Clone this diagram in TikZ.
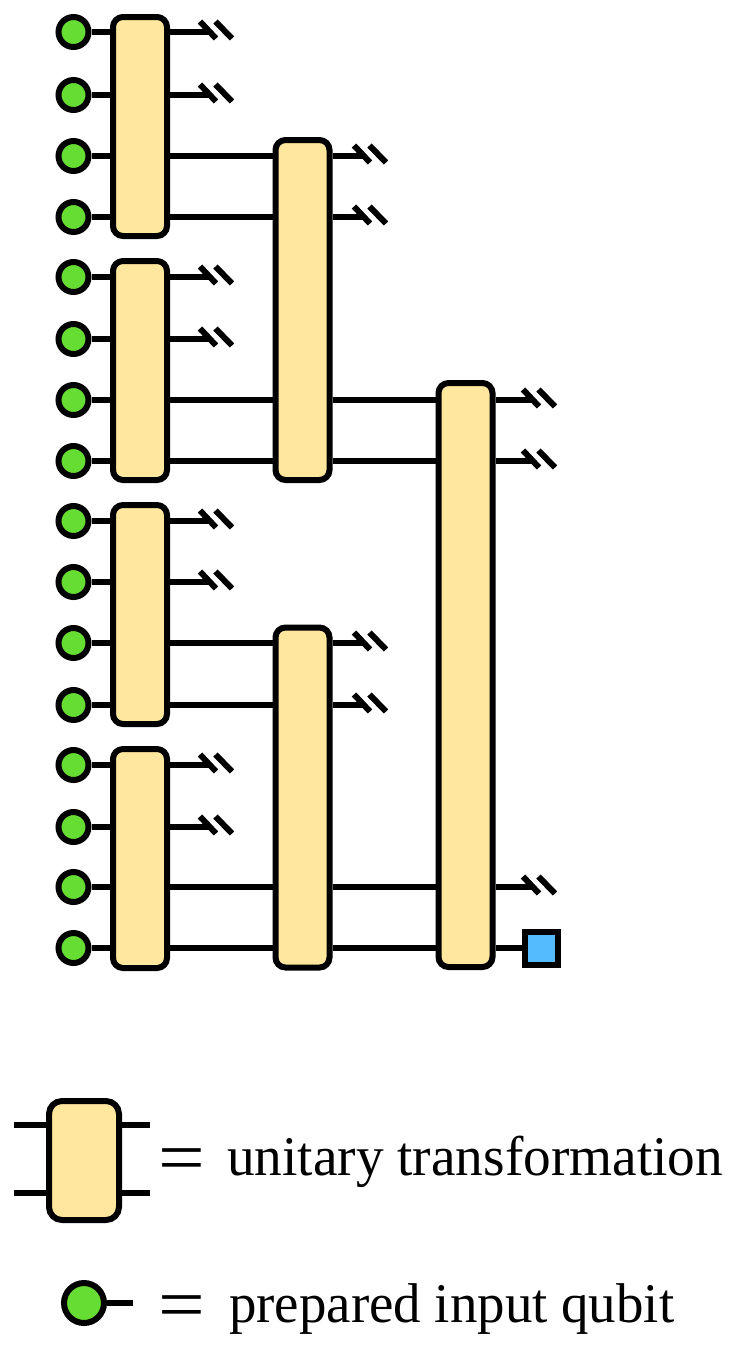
\documentclass[tikz,border=0pt]{standalone}
\usepackage{fontspec}
\setmainfont{Liberation Serif}
\definecolor{gateY}{HTML}{FFE89E}
\definecolor{qubitG}{HTML}{66DD33}
\definecolor{measB}{HTML}{55BBFF}
\tikzset{
  gate/.style={draw=black,fill=gateY,line width=6pt,rectangle,rounded corners=10pt,inner sep=0pt,minimum width=54pt},
  qubit/.style={draw=black,fill=qubitG,line width=6pt,circle,inner sep=0pt,minimum size=30pt},
  meas/.style={draw=black,fill=measB,line width=6pt,rectangle,inner sep=0pt,minimum size=33pt},
  wire/.style={draw=black,line width=5.5pt},
  cut/.style={draw=black,line width=6pt,line cap=butt},
  lab/.style={inner sep=0pt,anchor=base west,font=\fontsize{56}{56}\selectfont},
  eqs/.style={inner sep=0pt,xscale=1.12,font=\fontsize{74}{74}\selectfont}
}
\newcommand{\slashes}[1]{%
  \draw[cut] ([shift={(-10,-10.5)}]#1) -- ([shift={(6,6.5)}]#1);
  \draw[cut] ([shift={(5.5,-10.5)}]#1) -- ([shift={(22,6.5)}]#1);
}
\begin{document}
\begin{tikzpicture}[x=1pt,y=-1pt]
\useasboundingbox (0,0) rectangle (733,1350);
\fill[white] (0,0) rectangle (733,1350);
% qubits
\foreach \i/\y in {1/32,2/95,3/156,4/217,5/277,6/339,7/400,8/461,9/521,10/582,11/643,12/705,13/765,14/827,15/887,16/948}{
  \node[qubit] (q\i) at (73.5,\y) {};
  \coordinate (w\i) at (0,\y);
}
% gates
\node[gate,minimum height=219pt] (a1) at (140,126.5) {};
\node[gate,minimum height=219pt] (a2) at (140,370.5) {};
\node[gate,minimum height=219pt] (a3) at (140,614.5) {};
\node[gate,minimum height=219pt] (a4) at (140,858.5) {};
\node[gate,minimum height=340pt] (b1) at (302.5,310) {};
\node[gate,minimum height=340pt] (b2) at (302.5,797.5) {};
\node[gate,minimum height=584pt] (c1) at (465.5,675) {};
\node[meas] (m) at (541.5,948) {};
% input wires
\foreach \i/\g in {1/a1,2/a1,3/a1,4/a1,5/a2,6/a2,7/a2,8/a2,9/a3,10/a3,11/a3,12/a3,13/a4,14/a4,15/a4,16/a4}{
  \draw[wire] (q\i.east) -- (q\i -| \g.west);
}
% wires between gates
\foreach \i/\g/\h in {3/a1/b1,4/a1/b1,7/a2/b1,8/a2/b1,11/a3/b2,12/a3/b2,15/a4/b2,16/a4/b2}{
  \draw[wire] (w\i -| \g.east) -- (w\i -| \h.west);
}
\foreach \i/\g/\h in {7/b1/c1,8/b1/c1,15/b2/c1,16/b2/c1}{
  \draw[wire] (w\i -| \g.east) -- (w\i -| \h.west);
}
\draw[wire] (w16 -| c1.east) -- (m.west);
% discarded outputs
\foreach \i/\g in {1/a1,2/a1,5/a2,6/a2,9/a3,10/a3,13/a4,14/a4}{
  \coordinate (e\i) at (w\i -| 210,0);
  \draw[wire] (w\i -| \g.east) -- (e\i);
  \slashes{e\i}
}
\foreach \i/\g in {3/b1,4/b1,11/b2,12/b2}{
  \coordinate (f\i) at (w\i -| 364,0);
  \draw[wire] (w\i -| \g.east) -- (f\i);
  \slashes{f\i}
}
\foreach \i/\g in {7/c1,8/c1,15/c1}{
  \coordinate (h\i) at (w\i -| 533,0);
  \draw[wire] (w\i -| \g.east) -- (h\i);
  \slashes{h\i}
}
% legend
\coordinate (l1) at (14,1125);
\coordinate (l2) at (14,1193);
\coordinate (r1) at (150,1125);
\coordinate (r2) at (150,1193);
\node[gate,minimum width=70pt,minimum height=119pt,rounded corners=13pt] (lg) at (84,1160.5) {};
\draw[wire] (l1) -- (l1 -| lg.west);
\draw[wire] (l2) -- (l2 -| lg.west);
\draw[wire] (r1 -| lg.east) -- (r1);
\draw[wire] (r2 -| lg.east) -- (r2);
\node[qubit,minimum size=40pt] (lq) at (84,1303) {};
\coordinate (le) at (133,1303);
\draw[wire] (lq.east) -- (le);
\node[eqs] (eq1) at (182,1166) {=};
\node[eqs] (eq2) at (182,1313) {=};
\node[lab,xscale=0.987] (t1) at (227,1175) {unitary transformation};
\node[lab,xscale=0.98] (t2) at (229,1322) {prepared input qubit};
\end{tikzpicture}
\end{document}
